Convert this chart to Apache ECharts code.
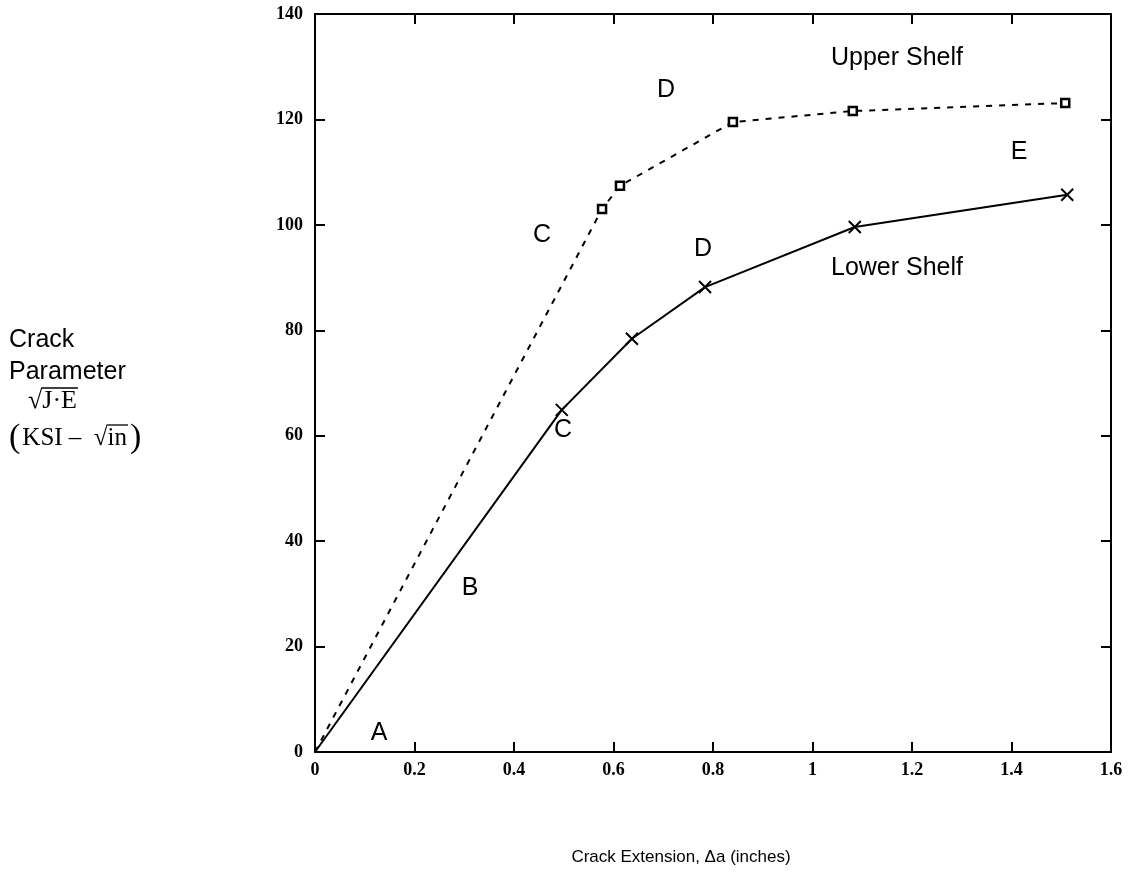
<!DOCTYPE html>
<html><head><meta charset="utf-8">
<script src="https://cdn.jsdelivr.net/npm/echarts@6/dist/echarts.min.js"></script>
<style>html,body{margin:0;padding:0;background:#fff}#c{width:1140px;height:873px}</style>
</head><body><div id="c"></div>
<script>
// Data
const upperX = [0, 0.577, 0.613, 0.840, 1.081, 1.508];
const upperY = [0, 103.0, 107.4, 119.5, 121.6, 123.1];
const lowerX = [0, 0.496, 0.637, 0.784, 1.085, 1.512];
const lowerY = [0, 64.9, 78.4, 88.2, 99.6, 105.7];
const xTickLabels = ['0', '0.2', '0.4', '0.6', '0.8', '1', '1.2', '1.4', '1.6'];
const yTickLabels = ['0', '20', '40', '60', '80', '100', '120', '140'];
const annotations = ['Upper Shelf', 'D', 'E', 'C', 'D', 'Lower Shelf', 'C', 'B', 'A'];
const xAxisTitle = 'Crack Extension, \u0394a (inches)';
const yTitleLines = ['Crack', 'Parameter'];

const chart = echarts.init(document.getElementById('c'), null, {renderer: 'canvas'});
const tickFont = {fontFamily: 'Liberation Serif', fontWeight: 'bold', fontSize: 18, color: '#000'};
const lab = {fontFamily: 'Liberation Sans', fontSize: 25, fill: '#000'};
const mctx = document.createElement('canvas').getContext('2d');
function tw(text, font) { mctx.font = font; return mctx.measureText(text).width; }

function pts(xs, ys) {
  return xs.map((x, i) => (i === 0 ? {value: [x, ys[i]], symbol: 'none'} : [x, ys[i]]));
}
function xAxisDef(pos, showLabel) {
  return {
    type: 'value', position: pos, min: 0, max: 1.6, interval: 0.2,
    axisLine: {show: true, onZero: false, lineStyle: {color: '#000', width: 2}},
    axisTick: {show: true, inside: true, length: 10, lineStyle: {color: '#000', width: 2}},
    splitLine: {show: false},
    axisLabel: Object.assign({show: showLabel, margin: 9,
      formatter: (v) => xTickLabels[Math.round(v / 0.2)]}, tickFont)
  };
}
function yAxisDef(pos, showLabel) {
  return {
    type: 'value', position: pos, min: 0, max: 140, interval: 20,
    axisLine: {show: true, onZero: false, lineStyle: {color: '#000', width: 2}},
    axisTick: {show: true, inside: true, length: 10, lineStyle: {color: '#000', width: 2}},
    splitLine: {show: false},
    axisLabel: Object.assign({show: showLabel, margin: 12,
      formatter: (v) => yTickLabels[Math.round(v / 20)]}, tickFont)
  };
}
const annoPos = [[897, 58], [666, 90], [1019, 152], [542, 235], [703, 249], [897, 268], [563, 430], [470, 588], [379, 733]];
const graphics = annotations.map((t, i) => ({
  type: 'text', x: annoPos[i][0], y: annoPos[i][1],
  style: Object.assign({text: t, align: 'center', verticalAlign: 'middle'}, lab)
}));
graphics.push(
  {type: 'text', x: 681, y: 857, style: Object.assign({text: xAxisTitle, align: 'center', verticalAlign: 'middle'}, lab, {fontSize: 17})},
  {type: 'text', x: 9, y: 340, style: Object.assign({text: yTitleLines[0], verticalAlign: 'middle'}, lab)},
  {type: 'text', x: 9, y: 372, style: Object.assign({text: yTitleLines[1], verticalAlign: 'middle'}, lab)}
);
// sqrt(J·E)
(function () {
  const f = '26px "Liberation Serif"';
  const x0 = 28, yc = 401;
  const wR = tw('\u221A', f);
  graphics.push({type: 'text', x: x0, y: yc, style: {text: '\u221AJ\u00B7E', verticalAlign: 'middle', fontFamily: 'Liberation Serif', fontSize: 26, fill: '#000'}});
  const wAll = tw('\u221AJ\u00B7E', f);
  graphics.push({type: 'line', shape: {x1: x0 + wR - 1, y1: yc - 13, x2: x0 + wAll + 1, y2: yc - 13}, style: {stroke: '#000', lineWidth: 1.3}});
})();
// (KSI – sqrt(in))
(function () {
  const yc = 438;
  const fp = '34px "Liberation Serif"', fm = '25px "Liberation Serif"';
  let x = 9;
  graphics.push({type: 'text', x: x, y: yc, style: {text: '(', verticalAlign: 'middle', fontFamily: 'Liberation Serif', fontSize: 34, fill: '#000'}});
  x += tw('(', fp) + 2;
  const s1 = 'KSI \u2013  ';
  graphics.push({type: 'text', x: x, y: yc, style: {text: s1 + '\u221Ain', verticalAlign: 'middle', fontFamily: 'Liberation Serif', fontSize: 25, fill: '#000'}});
  const xr = x + tw(s1 + '\u221A', fm);
  const xe = x + tw(s1 + '\u221Ain', fm);
  graphics.push({type: 'line', shape: {x1: xr - 1, y1: yc - 13, x2: xe + 1, y2: yc - 13}, style: {stroke: '#000', lineWidth: 1.3}});
  graphics.push({type: 'text', x: xe + 3, y: yc, style: {text: ')', verticalAlign: 'middle', fontFamily: 'Liberation Serif', fontSize: 34, fill: '#000'}});
})();

chart.setOption({
  backgroundColor: '#fff',
  animation: false,
  grid: {left: 315, right: 29, top: 14, bottom: 121, containLabel: false},
  xAxis: [xAxisDef('bottom', true), xAxisDef('top', false)],
  yAxis: [yAxisDef('left', true), yAxisDef('right', false)],
  series: [
    {
      name: 'Upper Shelf', type: 'line', xAxisIndex: 0, yAxisIndex: 0,
      data: pts(upperX, upperY),
      lineStyle: {color: '#000', width: 2, type: [6, 7]},
      symbol: 'rect', symbolSize: 8, showAllSymbol: true,
      itemStyle: {color: '#fff', borderColor: '#000', borderWidth: 2.5}
    },
    {
      name: 'Lower Shelf', type: 'line', xAxisIndex: 0, yAxisIndex: 0,
      data: pts(lowerX, lowerY),
      lineStyle: {color: '#000', width: 2},
      symbol: 'path://M0,0L10,10M10,0L0,10', symbolSize: 12, showAllSymbol: true,
      itemStyle: {color: '#000', borderColor: '#000', borderWidth: 2}
    }
  ],
  graphic: graphics
});
</script></body></html>
